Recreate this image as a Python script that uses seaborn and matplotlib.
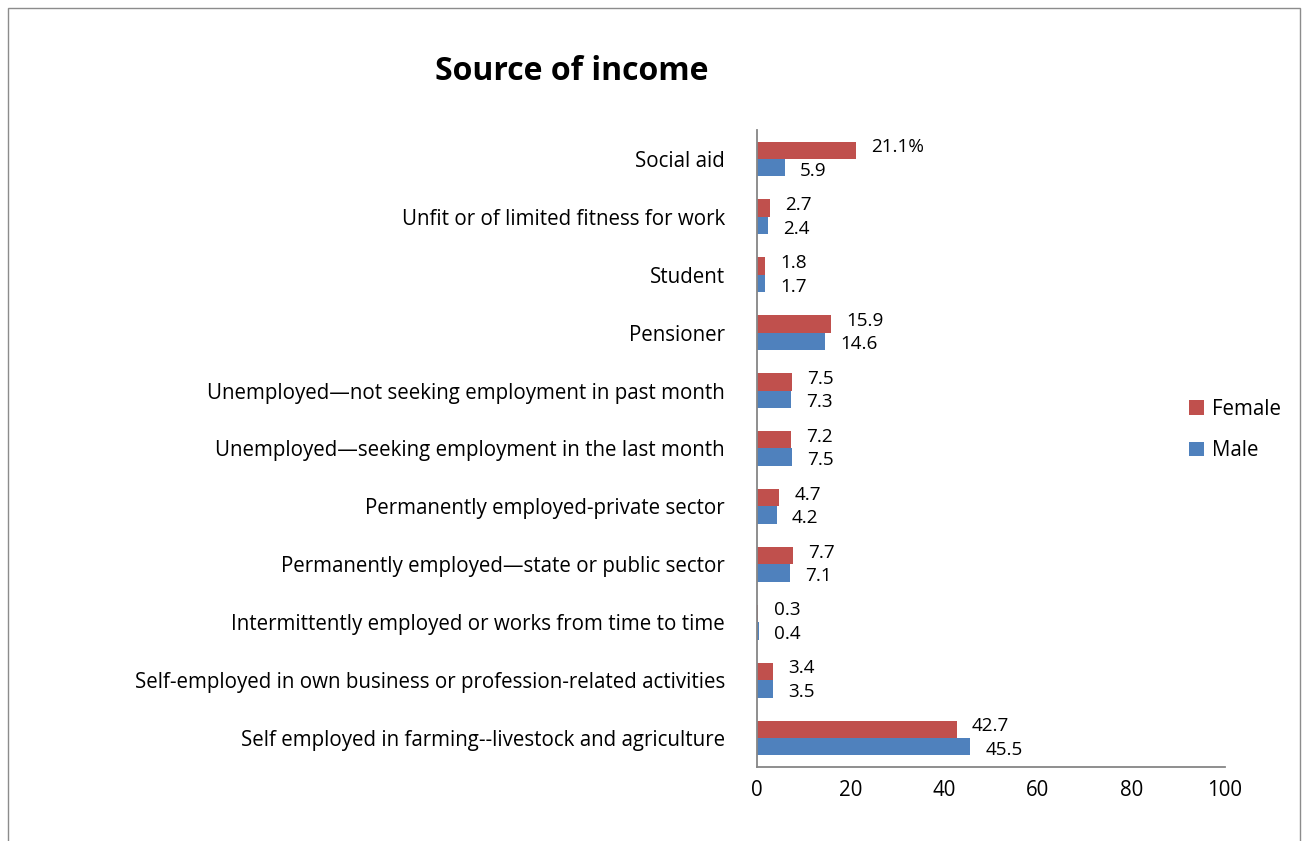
import matplotlib
matplotlib.use("Agg")
import matplotlib.pyplot as plt
import seaborn as sns
import pandas as pd
import numpy as np
from matplotlib.patches import Rectangle
from matplotlib.ticker import FixedLocator

categories = [
    "Social aid",
    "Unfit or of limited fitness for work",
    "Student",
    "Pensioner",
    "Unemployed\u2014not seeking employment in past month",
    "Unemployed\u2014seeking employment in the last month",
    "Permanently employed-private sector",
    "Permanently employed\u2014state or public sector",
    "Intermittently employed or works from time to time",
    "Self-employed in own business or profession-related activities",
    "Self employed in farming--livestock and agriculture",
]
female = [21.1, 2.7, 1.8, 15.9, 7.5, 7.2, 4.7, 7.7, 0.3, 3.4, 42.7]
male = [5.9, 2.4, 1.7, 14.6, 7.3, 7.5, 4.2, 7.1, 0.4, 3.5, 45.5]
percent_labelled = ["Social aid"]
x_ticks = [0, 20, 40, 60, 80, 100]

FEMALE_C = "#C0504D"
MALE_C = "#4F81BD"
GREY = "#868686"
FS = 14.8
VAL_FS = 13.6

df = pd.DataFrame({
    "category": categories * 2,
    "value": female + male,
    "sex": ["Female"] * len(categories) + ["Male"] * len(categories),
})

sns.set_theme(style="white")
plt.rcParams["font.family"] = ["Open Sans", "DejaVu Sans"]
plt.rcParams["text.color"] = "black"
plt.rcParams["xtick.labelcolor"] = "black"
plt.rcParams["ytick.labelcolor"] = "black"

fig = plt.figure(figsize=(13.08, 8.41), dpi=100)
ax = fig.add_axes([757 / 1308, 1 - 767 / 841, (1225 - 757) / 1308, (767 - 130) / 841])

sns.barplot(data=df, y="category", x="value", hue="sex", order=categories,
            hue_order=["Female", "Male"], palette=[FEMALE_C, MALE_C],
            orient="h", width=0.6, saturation=1, linewidth=0, ax=ax, legend=True)

# value labels beside each bar; the pair in each group is pushed slightly apart
for i, (cont, vals) in enumerate(zip(ax.containers, [female, male])):
    labels = []
    for cat, v in zip(categories, vals):
        s = f"{v:.1f}"
        if i == 0 and cat in percent_labelled:
            s += "%"
        labels.append(s)
    anns = ax.bar_label(cont, labels=labels, padding=11, fontsize=VAL_FS, color="black")
    dy = 2.2 if i == 0 else -2.2
    for a in anns:
        a.xyann = (11, dy)

ax.set_xlim(0, 100)
ax.set_ylim(len(categories) - 0.5, -0.5)
ax.set_xticks(x_ticks)
ax.set_xticklabels([str(t) for t in x_ticks], fontsize=FS, color="black")
ax.set_yticklabels(categories, fontsize=FS, color="black")
ax.set_xlabel("")
ax.set_ylabel("")

for side in ["top", "right"]:
    ax.spines[side].set_visible(False)
for side in ["left", "bottom"]:
    ax.spines[side].set_color(GREY)
    ax.spines[side].set_linewidth(1.3)

ax.tick_params(axis="y", which="major", length=0, pad=23)
ax.yaxis.set_minor_locator(FixedLocator(np.arange(-0.5, len(categories), 1.0)))
ax.tick_params(axis="y", which="minor", length=6, width=1.3, color=GREY, direction="out")
ax.tick_params(axis="x", which="major", length=6, width=1.3, color=GREY, direction="out", pad=3)

leg = ax.legend(loc="center left", bbox_to_anchor=(1181 / 1308, 1 - 430 / 841),
                bbox_transform=fig.transFigure, frameon=False, fontsize=FS,
                handlelength=0.7, handleheight=0.7, handletextpad=0.4, labelspacing=1.0,
                borderaxespad=0)
for t in leg.get_texts():
    t.set_color("black")

fig.text(572 / 1308, 1 - 72 / 841, "Source of income", ha="center", va="center",
         fontsize=23, fontweight="bold", color="black")

fig.patches.append(Rectangle((8 / 1308, -0.05), (1300 - 8) / 1308, 1.05 - 8 / 841,
                             transform=fig.transFigure, fill=False,
                             edgecolor="#8C8C8C", linewidth=1.0))

fig.savefig("out.png", dpi=100)
